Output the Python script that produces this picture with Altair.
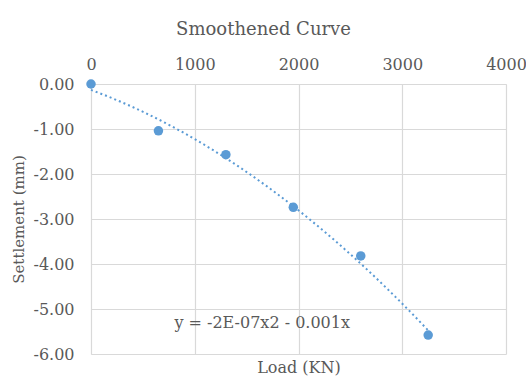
import altair as alt
import pandas as pd

load = [0, 650, 1300, 1950, 2600, 3250]
settlement = [0.00, -1.04, -1.57, -2.74, -3.82, -5.58]
x_ticks = [0, 1000, 2000, 3000, 4000]
y_ticks = [0, -1, -2, -3, -4, -5, -6]
equation = "y = -2E-07x2 - 0.001x"
eq_pos = [1650, -5.3]

df = pd.DataFrame({"load": load, "settle": settlement})

FONT = "DejaVu Serif"
GREY = "#595959"
GRID = "#d9d9d9"
BLUE = "#5b9bd5"

xs = alt.Scale(domain=[0, 4000], nice=False, zero=False)
ys = alt.Scale(domain=[-6, 0], nice=False, zero=False)

x_enc = alt.X("load:Q", scale=xs, axis=alt.Axis(
    orient="top", values=x_ticks, format="d", title="Load (KN)",
    titleY=288, titleBaseline="alphabetic", titleFont=FONT, titleFontSize=16,
    titleFontWeight="normal", titleColor=GREY,
    labelFont=FONT, labelFontSize=16, labelColor=GREY, labelPadding=12,
    ticks=False, tickSize=0, domainColor=GRID, gridColor=GRID, gridWidth=1.2,
    labelFlush=False))
y_enc = alt.Y("settle:Q", scale=ys, axis=alt.Axis(
    values=y_ticks, title="Settlement (mm)",
    labelExpr="datum.value == 0 ? '0.00' : '-' + format(abs(datum.value), '.2f')",
    titleFont=FONT, titleFontSize=15, titleFontWeight="normal", titleColor=GREY,
    titlePadding=6,
    labelFont=FONT, labelFontSize=16, labelColor=GREY, labelPadding=17,
    ticks=False, tickSize=0, domainColor=GRID, gridColor=GRID, gridWidth=1.2))

base = alt.Chart(df)

trend = base.transform_regression(
    "load", "settle", method="poly", order=2, extent=[0, 3250]
).mark_line(color=BLUE, strokeDash=[2, 3], strokeWidth=2).encode(x=x_enc, y=y_enc)

pts = base.mark_circle(color=BLUE, opacity=1, size=90).encode(x=x_enc, y=y_enc)

eq = alt.Chart(pd.DataFrame({"x": [eq_pos[0]], "y": [eq_pos[1]], "t": [equation]})).mark_text(
    font=FONT, fontSize=16, color=GREY, align="center", baseline="middle"
).encode(x=alt.X("x:Q", scale=xs), y=alt.Y("y:Q", scale=ys), text="t:N")

chart = alt.layer(trend, pts, eq).properties(
    width=415, height=270,
    autosize=alt.AutoSizeParams(type="none"),
    padding={"left": 91, "top": 84, "right": 20, "bottom": 22},
    title=alt.TitleParams("Smoothened Curve", font=FONT, fontSize=18, fontWeight="normal",
                          color=GREY, anchor="middle", dx=-35, offset=17),
).configure_view(stroke=None)

chart.save("out.html", embed_options={"renderer": "svg", "actions": False})
